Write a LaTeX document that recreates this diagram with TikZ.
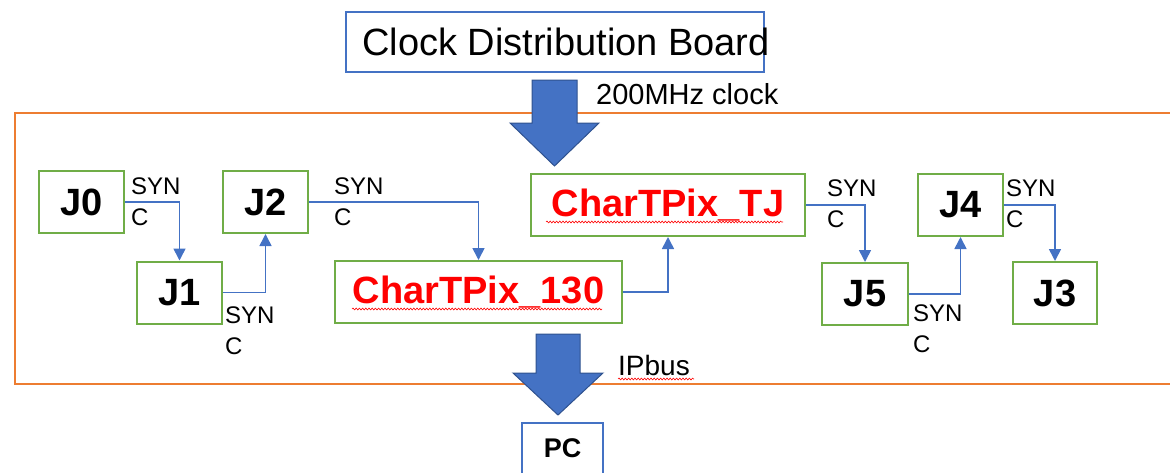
\documentclass[tikz,border=0pt]{standalone}
\usepackage{fontspec}
\setmainfont{Liberation Sans}
\usetikzlibrary{arrows.meta,decorations.pathmorphing}

\definecolor{boardblue}{HTML}{4472C4}
\definecolor{arrowedge}{HTML}{2F528F}
\definecolor{chipgreen}{HTML}{70AD47}
\definecolor{frameorange}{HTML}{ED7D31}
\definecolor{chipred}{HTML}{FF0000}

\tikzset{
  chipbox/.style={draw=chipgreen, line width=2pt, inner sep=0pt,
    minimum height=62pt, font=\fontsize{38}{40}\selectfont\bfseries},
  syncnote/.style={anchor=base west, inner sep=0pt, align=left,
    font=\fontsize{24}{31}\selectfont},
  link/.style={draw=boardblue, line width=1.6pt,
    -{Triangle[width=12pt,length=12pt]}},
  blockarrow/.style={fill=boardblue, draw=arrowedge, line width=1pt},
  spellmark/.style={draw=chipred, line width=0.6pt,
    decorate, decoration={snake, amplitude=0.9pt, segment length=3.2pt}},
}

\begin{document}
\begin{tikzpicture}[x=1pt, y=-1pt]
\useasboundingbox (0,0) rectangle (1170,472);
\clip (0,0) rectangle (1170,472);

% outer board frame (runs past the right edge)
\draw[frameorange, line width=1.6pt] (15,113) rectangle (1200,384);

% clock distribution board
\node[draw=boardblue, line width=1.8pt, inner sep=0pt,
      minimum width=418pt, minimum height=60pt] (cdb) at (555,42) {};
\node[anchor=base west, inner sep=0pt, font=\fontsize{38}{40}\selectfont]
      (cdbtext) at (362,55) {Clock Distribution Board};

% 200 MHz clock block arrow
\draw[blockarrow] (532,80) -- (577,80) -- (577,123) -- (599,123)
  -- (554.5,166) -- (510,123) -- (532,123) -- cycle;
\node[anchor=base west, inner sep=0pt, font=\fontsize{29}{31}\selectfont]
      (clk) at (596,104) {200MHz clock};

% chips
\node[chipbox, minimum width=85pt] (J0) at (81.5,202) {J0};
\node[chipbox, minimum width=85pt] (J1) at (179.5,292.5) {J1};
\node[chipbox, minimum width=85pt] (J2) at (265.5,202) {J2};
\node[chipbox, minimum width=287pt, text=chipred] (C130) at (478.5,292) {CharTPix\_130};
\node[chipbox, minimum width=274pt, text=chipred] (TJ) at (668,205) {CharTPix\_TJ};
\node[chipbox, minimum width=86pt] (J5) at (865,294) {J5};
\node[chipbox, minimum width=85pt] (J4) at (960.5,205) {J4};
\node[chipbox, minimum width=84pt] (J3) at (1055,293) {J3};

% spell-check underlines
\draw[spellmark] (352,309) -- (602,309);
\draw[spellmark] (546,222) -- (783,222);

% SYNC chain
\draw[link] (J0.east) -| (J1.north);
\draw[link] (J1.east) -| (J2.south);
\draw[link] (J2.east) -| (C130.north);
\draw[link] (C130.east) -| (TJ.south);
\draw[link] (TJ.east) -| (J5.north);
\draw[link] (J5.east) -| (J4.south);
\draw[link] (J4.east) -| (J3.north);

% SYNC labels (base anchor sits on the second line)
\node[syncnote] (s0) at (131,225) {SYN\\C};
\node[syncnote] (s1) at (225,354) {SYN\\C};
\node[syncnote] (s2) at (334,225) {SYN\\C};
\node[syncnote] (sTJ) at (827,227) {SYN\\C};
\node[syncnote] (s5) at (913,352) {SYN\\C};
\node[syncnote] (s4) at (1006,227) {SYN\\C};

% IPbus block arrow to the PC
\draw[blockarrow] (536,334) -- (580,334) -- (580,373) -- (603,373)
  -- (558,415) -- (513,373) -- (536,373) -- cycle;
\node[anchor=base west, inner sep=0pt, font=\fontsize{28}{30}\selectfont]
      (ipbus) at (618,375) {IPbus};
\draw[spellmark] (618,379) -- (694,379);

\node[draw=boardblue, line width=1.8pt, anchor=north, minimum width=81pt,
      inner xsep=0pt, inner ysep=15pt, text height=20pt, text depth=45pt,
      font=\fontsize{27}{29}\selectfont\bfseries] (PC) at (562.5,422) {PC};
\end{tikzpicture}
\end{document}
